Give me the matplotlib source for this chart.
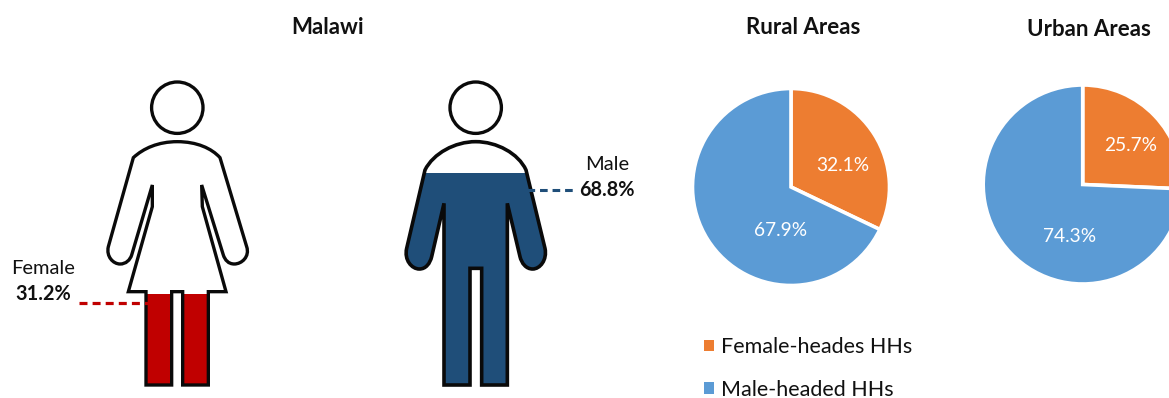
import matplotlib
matplotlib.use("Agg")
import matplotlib.pyplot as plt
from matplotlib.path import Path
from matplotlib.patches import PathPatch, Circle, Rectangle, Patch

# values
sexes = ["Female", "Male"]
sex_share = [31.2, 68.8]
pie_titles = ["Rural Areas", "Urban Areas"]
head_labels = ["Female-heades HHs", "Male-headed HHs"]
rural_share = [32.1, 67.9]
urban_share = [25.7, 74.3]

W, H = 1169, 398
ORANGE = "#ED7D31"
BLUE = "#5B9BD5"
RED = "#C00000"
NAVY = "#1F4E79"
INK = "#111111"

plt.rcParams["font.family"] = "Lato"

fig = plt.figure(figsize=(W / 100, H / 100), dpi=100)
ax = fig.add_axes([0, 0, 1, 1])
ax.set_xlim(0, W)
ax.set_ylim(H, 0)
ax.axis("off")


# outlines were traced on 3x crops, so scale them back to pixels
def outline(steps, ox, oy):
    verts, codes = [], []
    for step in steps:
        pts = [(x / 3 + ox, y / 3 + oy) for x, y in step]
        if len(verts) == 0:
            codes.append(Path.MOVETO)
        elif len(pts) == 3:
            codes += [Path.CURVE4] * 3
        else:
            codes.append(Path.LINETO)
        verts += pts
    verts.append(verts[0])
    codes.append(Path.CLOSEPOLY)
    return Path(verts, codes)


female_steps = [
    [(532, 245)], [(590, 245), (635, 265), (660, 293)], [(740, 560)],
    [(750, 590), (725, 612), (703, 612)], [(685, 612), (675, 600), (670, 585)],
    [(605, 375)], [(607, 440)], [(678, 695)], [(625, 695)], [(625, 975)],
    [(548, 975)], [(548, 695)], [(515, 695)], [(515, 975)], [(438, 975)],
    [(438, 695)], [(385, 695)], [(457, 440)], [(457, 375)], [(395, 585)],
    [(390, 600), (378, 612), (360, 612)], [(340, 612), (318, 590), (325, 560)],
    [(400, 293)], [(430, 265), (475, 245), (532, 245)],
]
male_steps = [
    [(257, 245)], [(320, 245), (385, 280), (408, 330)], [(465, 565)],
    [(472, 600), (450, 627), (428, 627)], [(408, 627), (395, 610), (390, 590)],
    [(352, 430)], [(352, 975)], [(275, 975)], [(275, 625)], [(240, 625)],
    [(240, 975)], [(162, 975)], [(162, 430)], [(125, 590)],
    [(120, 610), (108, 627), (88, 627)], [(65, 627), (42, 600), (50, 565)],
    [(105, 330)], [(130, 280), (195, 245), (257, 245)],
]

# figure fill height follows the share
FILL_BASE = 394.4
FILL_SCALE = 3.218


def person(steps, ox, oy, head_x, share, color, lw):
    body = outline(steps, ox, oy)
    level = FILL_BASE - share * FILL_SCALE
    fill = PathPatch(body, facecolor=color, edgecolor="none", zorder=2)
    ax.add_patch(fill)
    fill.set_clip_path(Rectangle((0, level), W, H - level, transform=ax.transData))
    ax.add_patch(PathPatch(body, facecolor="none", edgecolor="#0a0a0a", lw=lw,
                           joinstyle="miter", zorder=3))
    ax.add_patch(Circle((head_x, 107.7), 25.7, facecolor="none", edgecolor="#0a0a0a",
                        lw=2.4, zorder=3))


person(female_steps, 0, 60, 177.3, sex_share[0], RED, 2.4)
person(male_steps, 390, 60, 475.7, sex_share[1], NAVY, 2.6)

# leader lines
ax.plot([79, 148], [303, 303], color=RED, lw=2.3, dashes=(2.5, 1.6), zorder=4)
ax.plot([527, 573], [189.5, 189.5], color=NAVY, lw=2.2, dashes=(2.5, 1.6), zorder=4)

# labels
ax.text(43, 268.5, sexes[0], ha="center", va="center", fontsize=14.5, color=INK)
ax.text(43, 294.5, f"{sex_share[0]}%", ha="center", va="center", fontsize=14.3,
        fontweight="bold", color=INK)
ax.text(607, 164.5, sexes[1], ha="center", va="center", fontsize=14.5, color=INK)
ax.text(607, 190, f"{sex_share[1]}%", ha="center", va="center", fontsize=14.3,
        fontweight="bold", color=INK)

# titles
ax.text(328, 28, "Malawi", ha="center", va="center", fontsize=16, fontweight="bold", color=INK)
ax.text(803, 28, pie_titles[0], ha="center", va="center", fontsize=16, fontweight="bold", color=INK)
ax.text(1089, 29, pie_titles[1], ha="center", va="center", fontsize=16, fontweight="bold", color=INK)


def pie_chart(values, cx, cy, r, label_pos):
    pad = 1.05
    a = fig.add_axes([(cx - r * pad) / W, (H - cy - r * pad) / H, 2 * r * pad / W, 2 * r * pad / H])
    a.pie(values, colors=[ORANGE, BLUE], startangle=90, counterclock=False,
          wedgeprops={"edgecolor": "white", "linewidth": 2.6})
    a.set_xlim(-pad, pad)
    a.set_ylim(-pad, pad)
    for v, (lx, ly) in zip(values, label_pos):
        a.text(lx, ly, f"{v}%", color="white", ha="center", va="center", fontsize=13.8)


pie_chart(rural_share, 791, 187, 98.5, [(0.53, 0.22), (-0.11, -0.44)])
pie_chart(urban_share, 1082.7, 184.5, 99.5, [(0.485, 0.395), (-0.13, -0.52)])

handles = [Patch(facecolor=ORANGE, edgecolor="none"), Patch(facecolor=BLUE, edgecolor="none")]
ax.legend(handles, head_labels, loc="upper left", bbox_to_anchor=(698 / W, 1 - 331 / H),
          frameon=False, fontsize=15.5, handlelength=0.42, handleheight=0.42,
          handletextpad=0.33, labelspacing=1.03, borderpad=0, borderaxespad=0.3,
          labelcolor=INK)

fig.savefig("out.png", dpi=100)
